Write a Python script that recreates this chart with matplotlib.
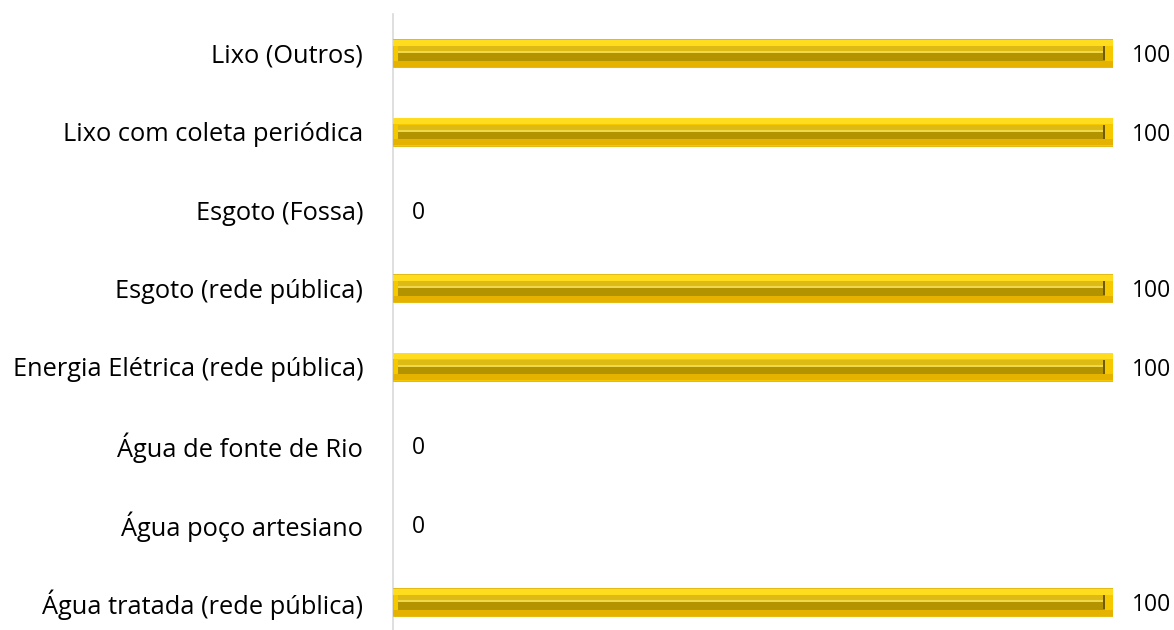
import numpy as np
import matplotlib
matplotlib.use("Agg")
import matplotlib.pyplot as plt

# categorias de baixo para cima
categorias = ['Água tratada (rede pública)', 'Água poço artesiano', 'Água de fonte de Rio',
              'Energia Elétrica (rede pública)', 'Esgoto (rede pública)', 'Esgoto (Fossa)',
              'Lixo com coleta periódica', 'Lixo (Outros)']
valores = [100, 0, 0, 100, 100, 0, 100, 100]

plt.rcParams['font.family'] = ['Open Sans', 'DejaVu Sans']

fig = plt.figure(figsize=(11.74, 6.3), dpi=100)
ax = fig.add_axes([393 / 1174, 0, 720 / 1174, 616 / 630])

y = np.arange(len(categorias))
v = np.array(valores, dtype=float)
px = 100 / 720.0      # unidades de dado por pixel (x)
py = 1 / 78.4         # unidades de dado por pixel (y)
h = 28 * py

m = v > 0
ym, vm = y[m], v[m]
# barra externa (moldura)
ax.barh(ym, vm, height=h, color='#F5C800', edgecolor='#E0B400', linewidth=0.6, zorder=2)
# realce superior e sombra inferior da moldura
ax.barh(ym + h / 2 - 3.5 * py, vm, height=6 * py, color='#FFDC1E', linewidth=0, zorder=3)
ax.barh(ym - h / 2 + 3.5 * py, vm, height=6 * py, color='#E6B200', linewidth=0, zorder=3)
# canal interno
ax.barh(ym + 3.5 * py, vm - 13 * px, left=5 * px, height=7 * py, color='#DDBB14', linewidth=0, zorder=4)
ax.barh(ym - 3.5 * py, vm - 13 * px, left=5 * px, height=8 * py, color='#B39400', linewidth=0, zorder=4)
ax.barh(ym + 1 * py, vm - 13 * px, left=5 * px, height=2 * py, color='#F0D84C', linewidth=0, zorder=5)
ax.barh(ym, 2.5 * px, left=vm - 10.5 * px, height=14 * py, color='#6E5A00', linewidth=0, zorder=5)

for yi, vi in zip(y, valores):
    ax.text(vi + 19 * px, yi, str(vi), va='center_baseline', ha='left', fontsize=16.5,
            color='black', clip_on=False)

ax.set_xlim(0, 100)
ax.set_ylim(-0.357, 7.5)
ax.set_yticks(y)
ax.set_yticklabels(categorias, fontsize=18.3)
ax.tick_params(axis='y', length=0, pad=21.5)
ax.set_xticks([])
for s in ['top', 'right', 'bottom']:
    ax.spines[s].set_visible(False)
ax.spines['left'].set_color('#D9D9D9')
ax.spines['left'].set_linewidth(1.2)
ax.spines['left'].set_zorder(1)

fig.savefig('out.png', dpi=100)
